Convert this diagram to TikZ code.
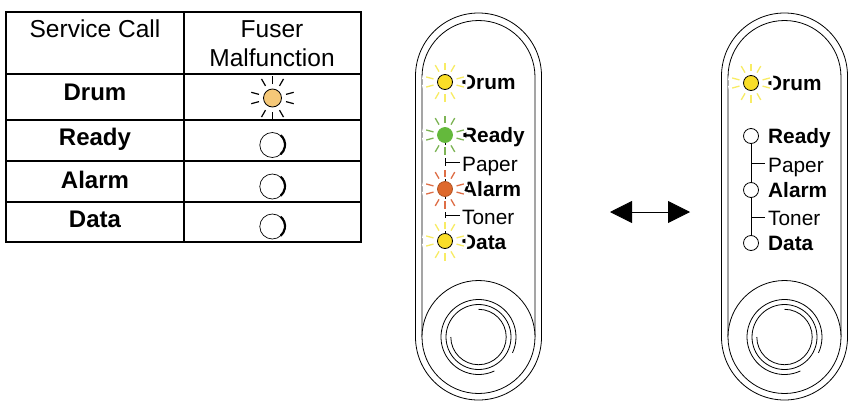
\documentclass[tikz,border=0pt]{standalone}
\usepackage{fontspec}
\setmainfont{Liberation Sans}
\usetikzlibrary{positioning,arrows.meta,calc}
\definecolor{ledyellow}{RGB}{250,222,40}
\definecolor{raysyellow}{RGB}{248,236,100}
\definecolor{ledgreen}{RGB}{100,185,60}
\definecolor{raysgreen}{RGB}{125,180,85}
\definecolor{ledred}{RGB}{222,105,45}
\definecolor{raysred}{RGB}{222,110,70}
\definecolor{ledamber}{RGB}{245,200,120}

% one lamp with its rays: #1 name, #2 position, #3 fill, #4 ray colour, #5 rim
\newcommand{\flashled}[5]{
  \foreach \ang in {90,270,60,120,240,300,15,-15,165,195} {
    \draw[white, line width=6pt] ($(#2)+(\ang:10)$) -- ($(#2)+(\ang:23)$);
  }
  \foreach \ang in {90,270,60,120,240,300,15,-15,165,195} {
    \draw[#4, line width=1.3pt] ($(#2)+(\ang:12)$) -- ($(#2)+(\ang:19.5)$);
  }
  \node[led, fill=#3, draw=#5] (#1) at (#2) {};
}

\begin{document}
\begin{tikzpicture}[
    x=1pt, y=-1pt,
    grid/.style={line width=1.5pt},
    head/.style={font=\fontsize{24.5}{29}\selectfont, align=center},
    rowhead/.style={font=\fontsize{24}{28}\selectfont\bfseries},
    led/.style={circle, draw=black, line width=0.8pt, minimum size=15pt, inner sep=0pt},
    dark/.style={led, draw=black, fill=white},
    lname/.style={font=\fontsize{20.8}{24}\selectfont\bfseries, anchor=base west, inner sep=0pt},
    lsub/.style={font=\fontsize{20.8}{24}\selectfont, anchor=base west, inner sep=0pt},
    outline/.style={line width=0.8pt},
    arrow/.style={{Triangle[length=22pt,width=22pt]}-{Triangle[length=22pt,width=22pt]}, line width=0.8pt}
]
\useasboundingbox (0,0) rectangle (856,410);

% Table
\draw[grid] (6,12) rectangle (361,242);
\draw[grid] (184,12) -- (184,242);
\foreach \yy in {74,120,161,202} \draw[grid] (6,\yy) -- (361,\yy);

\node[head] (service) at (95,29) {Service Call};
\node[head] (fuser) at (272,44) {Fuser\\[0pt]Malfunction};
\node[rowhead] (rdrum) at (95,92) {Drum};
\node[rowhead] (rready) at (95,139) {Ready};
\node[rowhead] (ralarm) at (95,180) {Alarm};
\node[rowhead] (rdata) at (95,219) {Data};

% Table lamps
\foreach \ang in {90,270,60,120,240,300,15,-15,165,195}
  \draw[black, line width=1.2pt] ($(272.5,98)+(\ang:14)$) -- ($(272.5,98)+(\ang:22)$);
\node[led, fill=ledamber, minimum size=18pt] (tdrum) at (272.5,98) {};
\foreach \nm/\yy in {tready/145, talarm/186.5, tdata/226.5} {
  \node[circle, draw=black, line width=0.7pt, minimum size=25pt, inner sep=0pt] (\nm) at (272.3,\yy) {};
  \draw[line width=2.2pt] (\nm.50) arc (-50:50:12.5);
}

% Panels
\foreach \pp/\dx in {left/0, right/306} {
  \begin{scope}[xshift=\dx pt]
    \draw[outline] (415.5,337) -- (415.5,76) arc (180:360:63) -- (541.5,337) arc (0:180:63);
    \draw[outline] (422,337) -- (422,77) arc (180:360:56.5) -- (535,337);
    \draw[outline, fill=white] (478.5,337) circle (56.5);
    \draw[outline] (478.5,337) ++(65:37.5) arc (65:385:37.5);
    \draw[outline] (478.5,337) circle (32.5);
    \draw[outline] (478.5,337) ++(270:27.7) arc (270:540:27.7);
  \end{scope}
}

% Left panel
\draw[outline] (445,135) -- (445,241);
\draw[outline] (445,162) -- (460,162);
\draw[outline] (445,215) -- (460,215);
\node[lname] (ldrum) at (461,89) {Drum};
\node[lname] (lready) at (462,142) {Ready};
\node[lsub] (lpaper) at (462,171) {Paper};
\node[lname] (lalarm) at (462,196) {Alarm};
\node[lsub] (ltoner) at (462,224) {Toner};
\node[lname] (ldata) at (461,249) {Data};
\flashled{aone}{445,82}{ledyellow}{raysyellow}{black}
\flashled{atwo}{445,135}{ledgreen}{raysgreen}{ledgreen}
\flashled{athree}{445,189}{ledred}{raysred}{ledred!80!black}
\flashled{afour}{445,241}{ledyellow}{raysyellow}{black}

% Right panel
\draw[outline] (751,136) -- (751,243);
\draw[outline] (751,163) -- (765,163);
\draw[outline] (751,217) -- (765,217);
\node[lname] (mdrum) at (767,90) {Drum};
\node[lname] (mready) at (768,143) {Ready};
\node[lsub] (mpaper) at (768,172) {Paper};
\node[lname] (malarm) at (768,197) {Alarm};
\node[lsub] (mtoner) at (768,225) {Toner};
\node[lname] (mdata) at (768,250) {Data};
\flashled{bone}{751,83}{ledyellow}{raysyellow}{black}
\node[dark] (btwo) at (751,136) {};
\node[dark] (bthree) at (751,190) {};
\node[dark] (bfour) at (751,243) {};

% Arrow
\coordinate (arl) at (610,212);
\coordinate (arr) at (690,212);
\draw[arrow] (arl) -- (arr);

\end{tikzpicture}
\end{document}
